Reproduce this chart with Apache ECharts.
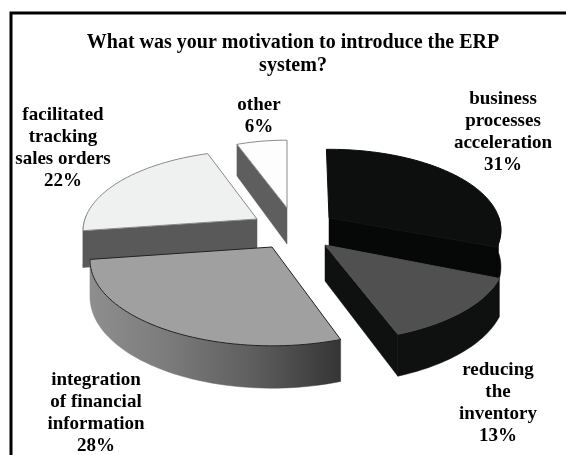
<!DOCTYPE html>
<html>
<head>
<meta charset="utf-8">
<style>html,body{margin:0;background:#fff}#chart{width:566px;height:455px}</style>
<script src="https://cdn.jsdelivr.net/npm/echarts@6/dist/echarts.min.js"></script>
</head>
<body>
<div id="chart"></div>
<script>
const titleText = "What was your motivation to introduce the ERP\nsystem?";
const categories = ["business\nprocesses\nacceleration", "reducing\nthe\ninventory", "integration\nof financial\ninformation", "facilitated\ntracking\nsales orders", "other"];
const shares = [31, 13, 28, 22, 6];

// where each exploded piece sits, and how it looks
const apexes = [[329, 218], [325, 245], [272, 247], [257, 219], [287, 208]];
const radii = [170, 178, 180, 172, 155];
const flats = [79, 82, 84, 79, 78];
const spins = [-1, 1, 2.5, 2.5, 0];
const labelSpots = [[503, 176], [498, 447], [96, 457], [63, 192], [259, 138]];
const topColors = ["#0d0f0f", "#505050", "#a0a0a0", "#eff0f0", "#fdfdfd"];
const wallColors = ["#060707", "#0f1010", "#555555", "#595959", "#5e5e5e"];
const edgeColors = ["#0d0f0f", "#505050", "#222222", "#8a8a8a", "#8a8a8a"];
const drawOrder = [4, 3, 0, 2, 1];

const depth = 36, persp = 0.15;
const rad = d => d * Math.PI / 180;

function project(i, deg, r, z) {
    const u = Math.sin(rad(deg + spins[i])) * r, v = -Math.cos(rad(deg + spins[i])) * r;
    const s = 1 / (1 - persp * v);
    return [apexes[i][0] + radii[i] * u * s, apexes[i][1] + flats[i] * v * s + z * depth * s];
}

function arc(i, a, b, z) {
    const pts = [];
    const n = Math.max(2, Math.ceil((b - a) / 2));
    for (let k = 0; k <= n; k++) pts.push(project(i, a + (b - a) * k / n, 1, z));
    return pts;
}

const poly = (points, fill, z2, stroke) => ({
    type: "polygon", z2,
    shape: {points},
    style: {fill, stroke: stroke || fill, lineWidth: stroke ? 1 : 0.5}
});

function renderSlice(params, api) {
    const i = params.dataIndex;
    const before = shares.slice(0, i).reduce((a, b) => a + b, 0);
    const total = shares.reduce((a, b) => a + b, 0);
    const start = before / total * 360;
    const end = (before + api.value(0)) / total * 360;
    const order = drawOrder.indexOf(i) * 10;
    const children = [];

    const cut = deg => [project(i, deg, 0, 0), project(i, deg, 1, 0), project(i, deg, 1, 1), project(i, deg, 0, 1)];
    if (start > 180 && start < 360) children.push(poly(cut(start), wallColors[i], order));
    if (end > 0 && end < 180) children.push(poly(cut(end), wallColors[i], order));

    const a = Math.max(start, 90), b = Math.min(end, 270);
    if (b > a) {
        const outer = arc(i, a, b, 0).concat(arc(i, a, b, 1).reverse());
        let fill = wallColors[i];
        if (i === 2) {
            fill = {type: "linear", global: true, x: outer[0][0], y: 0, x2: outer[arc(i, a, b, 0).length - 1][0], y2: 0,
                colorStops: [{offset: 0, color: "#353535"}, {offset: 0.35, color: "#5e5e5e"}, {offset: 0.7, color: "#7c7c7c"}, {offset: 1, color: "#8e8e8e"}]};
        }
        children.push(poly(outer, fill, order + 1));
    }

    const top = [project(i, start, 0, 0)].concat(arc(i, start, end, 0));
    children.push(poly(top, topColors[i], order + 2, edgeColors[i]));

    return {type: "group", children};
}

const labels = categories.map((name, i) => ({
    type: "text",
    x: labelSpots[i][0],
    y: labelSpots[i][1],
    z: 20,
    style: {
        text: name + "\n" + shares[i] + "%",
        fill: "#000",
        align: "center",
        verticalAlign: "bottom",
        font: "bold 19px 'Liberation Serif'",
        lineHeight: 22
    }
}));

const chart = echarts.init(document.getElementById("chart"), null, {renderer: "canvas"});
chart.setOption({
    animation: false,
    backgroundColor: "#fff",
    title: {
        text: titleText,
        left: 288,
        top: 26,
        textAlign: "center",
        textStyle: {fontFamily: "Liberation Serif", fontWeight: "bold", fontSize: 20, lineHeight: 23, color: "#000"}
    },
    graphic: [{
        type: "polyline", z: 0,
        shape: {points: [[11, 470], [11, 13], [570, 13]]},
        style: {fill: "none", stroke: "#000", lineWidth: 3}
    }].concat(labels),
    series: [{
        type: "custom",
        coordinateSystem: "none",
        silent: true,
        data: shares.map(v => [v]),
        renderItem: renderSlice
    }]
});
</script>
</body>
</html>
